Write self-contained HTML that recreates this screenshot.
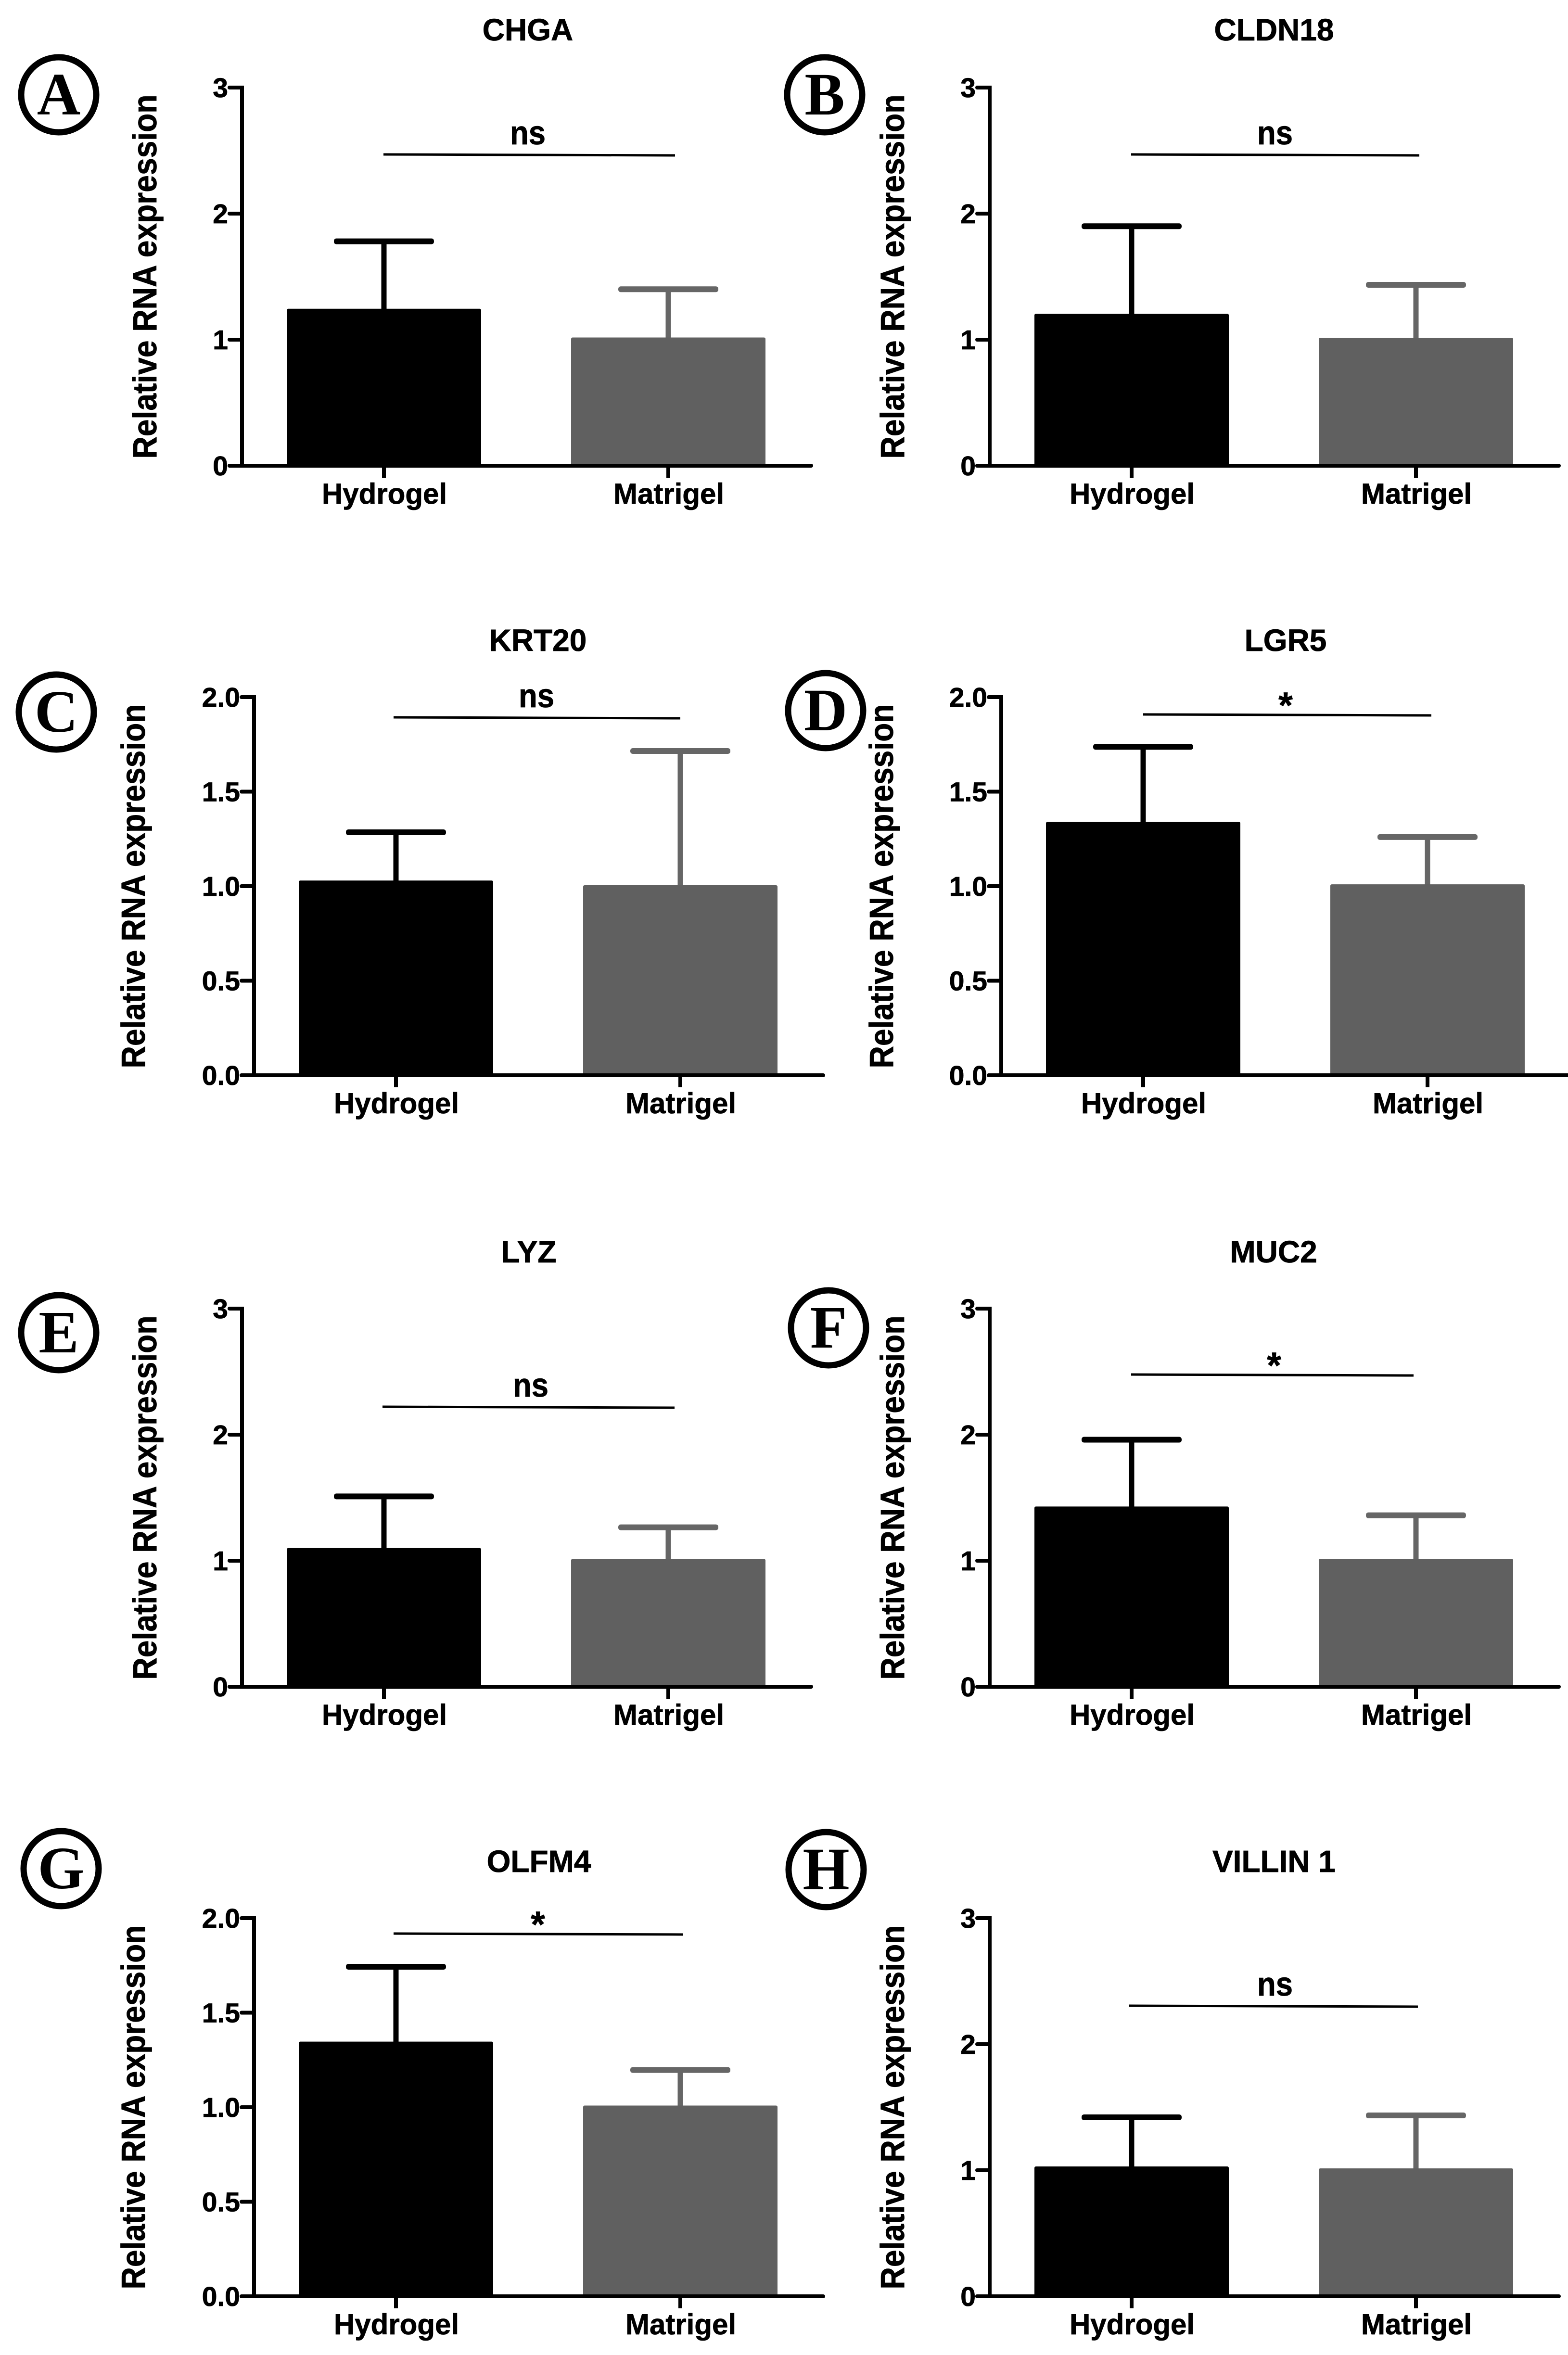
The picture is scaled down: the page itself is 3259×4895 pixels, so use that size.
<!DOCTYPE html>
<html lang="en">
<head>
<meta charset="utf-8">
<title>Relative RNA expression: Hydrogel vs Matrigel</title>
<style>
html,body{margin:0;padding:0;background:#fff;}
svg{display:block;}
text{font-family:"Liberation Sans",sans-serif;font-weight:700;fill:#000;stroke:#000;stroke-width:0.8px;}
.badge-letter{font-family:"Liberation Serif",serif;font-weight:700;stroke-width:0;}
</style>
</head>
<body>
<svg id="figure" xmlns="http://www.w3.org/2000/svg" width="3259" height="4895" viewBox="0 0 3259 4895"></svg>
<script>
const categories = ['Hydrogel', 'Matrigel'];
const panelLetters = ['A', 'B', 'C', 'D', 'E', 'F', 'G', 'H'];
const panelTitles = ['CHGA', 'CLDN18', 'KRT20', 'LGR5', 'LYZ', 'MUC2', 'OLFM4', 'VILLIN 1'];
const hydrogelMeans = [1.245, 1.205, 1.03, 1.34, 1.10, 1.43, 1.347, 1.03];
const hydrogelUpper = [1.78, 1.90, 1.285, 1.737, 1.51, 1.96, 1.743, 1.42];
const matrigelMeans = [1.017, 1.015, 1.005, 1.01, 1.014, 1.015, 1.009, 1.015];
const matrigelUpper = [1.40, 1.435, 1.715, 1.26, 1.265, 1.36, 1.197, 1.435];
const wholeTicks = ['0', '1', '2', '3'];
const halfTicks = ['0.0', '0.5', '1.0', '1.5', '2.0'];
const significance = ['ns', 'ns', 'ns', '*', 'ns', '*', '*', 'ns'];

const NS = 'http://www.w3.org/2000/svg';
const figure = document.getElementById('figure');

function make(tag, parent, attrs, content) {
  const node = document.createElementNS(NS, tag);
  for (const key in attrs) node.setAttribute(key, attrs[key]);
  if (content !== undefined) node.textContent = content;
  parent.appendChild(node);
  return node;
}

function drawPanel(i, ticks, x0, y0, labelX, badgeX, badgeY, titleX, titleY, sigX1, sigX2, sigY, sigTextX) {
  const plotHeight = 786;
  const yMax = parseFloat(ticks[ticks.length - 1]);
  const yScale = v => y0 - (v / yMax) * plotHeight;
  const xScale = c => x0 + 295 + c * 591;
  const barWidth = 404;
  const capWidth = 208;
  const colors = ['#000000', '#606060'];
  const stemColors = ['#000000', '#666666'];
  const means = [hydrogelMeans[i], matrigelMeans[i]];
  const uppers = [hydrogelUpper[i], matrigelUpper[i]];

  const panel = make('g', figure, {});
  
  

  const badgeRing = make('circle', panel, {cx: badgeX, cy: badgeY, r: 78, fill: '#fff', stroke: '#000', 'stroke-width': 13});
  
  
  const badgeLetter = make('text', panel, {x: badgeX, y: badgeY + 41, 'text-anchor': 'middle', 'font-size': 125, class: 'badge-letter'}, panelLetters[i]);
  
  

  const title = make('text', panel, {x: titleX, y: titleY, 'text-anchor': 'middle', 'font-size': 64}, panelTitles[i]);
  
  

  const yCenter = y0 - 393;
  const yTitle = make('text', panel, {x: labelX, y: yCenter, 'text-anchor': 'middle', 'font-size': 70, textLength: 757, lengthAdjust: 'spacingAndGlyphs', transform: 'rotate(-90 ' + labelX + ' ' + yCenter + ')'}, 'Relative RNA expression');
  
  

  categories.forEach((name, c) => {
    const cx = xScale(c);
    const top = yScale(means[c]);
    const cap = yScale(uppers[c]);

    const stem = make('line', panel, {x1: cx, x2: cx, y1: top + 2, y2: cap, stroke: stemColors[c], 'stroke-width': 11});
    
    

    const whisker = make('rect', panel, {x: cx - capWidth / 2, y: cap - 6, width: capWidth, height: 12, rx: 5, fill: stemColors[c]});
    
    

    const bar = make('rect', panel, {x: cx - barWidth / 2, y: top, width: barWidth, height: y0 - top, rx: 3, fill: colors[c]});
    
    

    const xTick = make('line', panel, {x1: cx, x2: cx, y1: y0, y2: y0 + 25, stroke: '#000', 'stroke-width': 8});
    
    

    const xLabel = make('text', panel, {x: cx + 1, y: y0 + 79, 'text-anchor': 'middle', 'font-size': 60}, name);
    
    
  });

  ticks.forEach(label => {
    const ty = yScale(parseFloat(label));
    const yTick = make('line', panel, {x1: x0 - 26, x2: x0, y1: ty, y2: ty, stroke: '#000', 'stroke-width': 8, 'stroke-linecap': 'round'});
    
    

    const tickText = make('text', panel, {x: x0 - 29, y: ty + 20, 'text-anchor': 'end', 'font-size': 57}, label);
    
    
  });

  const yAxis = make('line', panel, {x1: x0, x2: x0, y1: yScale(yMax) - 4, y2: y0 + 4, stroke: '#000', 'stroke-width': 8});
  
  

  const xAxis = make('line', panel, {x1: x0 - 26, x2: x0 + 1183, y1: y0, y2: y0, stroke: '#000', 'stroke-width': 8, 'stroke-linecap': 'round'});
  
  

  const bracket = make('line', panel, {x1: sigX1, x2: sigX2, y1: sigY - 1, y2: sigY + 1, stroke: '#000', 'stroke-width': 5});
  
  

  const isStar = significance[i] === '*';
  const sigAttrs = isStar
    ? {x: sigTextX, y: sigY + 6, 'text-anchor': 'middle', 'font-size': 76}
    : {x: sigTextX, y: sigY - 22, 'text-anchor': 'middle', 'font-size': 70, textLength: 74, lengthAdjust: 'spacingAndGlyphs'};
  const sigLabel = make('text', panel, sigAttrs, significance[i]);
  
  
}

drawPanel(0, wholeTicks, 503, 968, 325, 122, 197, 1097, 84, 797, 1403, 322, 1097);
drawPanel(1, wholeTicks, 2057, 968, 1879, 1714, 197, 2648, 84, 2351, 2950, 322, 2650);
drawPanel(2, halfTicks, 528, 2235, 301, 117, 1480, 1118, 1353, 818, 1414, 1492, 1115);
drawPanel(3, halfTicks, 2081, 2235, 1856, 1716, 1477, 2672, 1353, 2376, 2975, 1486, 2672);
drawPanel(4, wholeTicks, 503, 3506, 325, 122, 2770, 1099, 2624, 795, 1402, 2925, 1103);
drawPanel(5, wholeTicks, 2057, 3506, 1879, 1722, 2760, 2647, 2624, 2351, 2938, 2858, 2648);
drawPanel(6, halfTicks, 528, 4773, 301, 127, 3884, 1120, 3891, 818, 1420, 4020, 1118);
drawPanel(7, wholeTicks, 2057, 4773, 1879, 1717, 3886, 2648, 3891, 2347, 2947, 4170, 2650);
</script>
</body>
</html>
